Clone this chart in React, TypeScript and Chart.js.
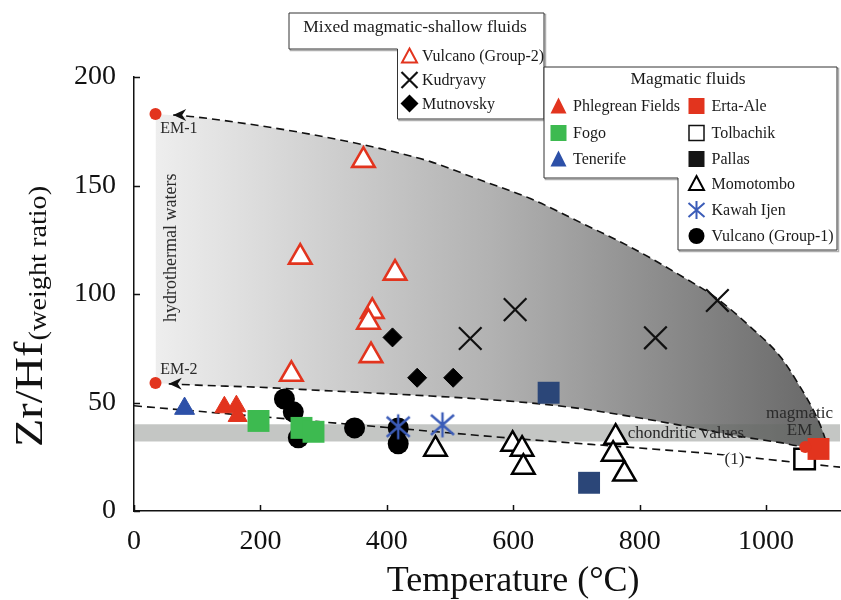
import React, { useEffect, useRef } from "react";
import { Chart, registerables } from "chart.js";

Chart.register(...registerables);

const FONT = "'Liberation Serif', 'Times New Roman', serif";

// ---- axes ----
const xTickValues = [0, 200, 400, 600, 800, 1000];
const yTickValues = [0, 50, 100, 150, 200];
const xRange = [0, 1117];
const yRange = [0, 200];

// ---- mixing field boundaries (Temperature °C, Zr/Hf) ----
const curveT = [34, 100, 200, 300, 390, 469, 548, 627, 706, 785, 859, 922, 975, 1023, 1054, 1075, 1089, 1096];
const upperZrHf = [183, 181.5, 177.5, 172.5, 167, 161, 152.5, 144, 133, 121.7, 109.5, 98, 84.9, 71, 57.2, 46.4, 37.2, 31];
const lowerZrHf = [59, 58, 57, 55.5, 54.2, 53, 51.6, 49.8, 47.2, 43.6, 39.8, 36.3, 33.6, 31.5, 30, 30.3, 30.7, 31];
const upperArrowTip = [62, 182.5];
const lowerArrowTip = [55, 58.6];

// ---- trend line (1) ----
const trendT = [0, 200, 400, 612, 800, 917, 1117];
const trendZrHf = [48.5, 43.5, 38.5, 33.2, 29, 26.3, 20.2];

// ---- chondritic values band ----
const chondriticRange = [32, 40];

// ---- end members ----
const endMembers = [[34, 183], [34, 59], [1062, 29.5]];

// ---- samples [T, Zr/Hf] ----
const vulcanoG2 = [[363, 161.6], [263, 117], [413, 109.6], [377, 92], [371, 87], [375, 71.6], [249, 63]];
const kudryavy = [[532, 79.5], [603, 92.8], [825, 79.8], [923, 97]];
const mutnovsky = [[409, 80], [448, 61.4], [505, 61.4]];
const phlegrean = [[143, 47.8], [162, 48.3], [164, 43.8]];
const fogo = [[197, 41.5], [265, 38.3], [284, 36.5]];
const tenerife = [[80, 47.2]];
const ertaAle = [[1083, 28.6]];
const tolbachik = [[1061, 24]];
const pallas = [[656, 54.5], [720, 13]];
const momotombo = [[477, 28.5], [599, 30.8], [614, 28.5], [616, 20.2], [762, 34], [758, 26.2], [776, 17]];
const kawahIjen = [[418, 38.8], [488, 39.7]];
const vulcanoG1 = [[238, 51.6], [252, 45.7], [260, 33.7], [349, 38.3], [418, 38.3], [418, 31]];

const RED = "#e2341e";
const GREEN = "#3dba50";
const BLUE = "#2d50a8";
const NAVY = "#2b4678";
const STAR_BLUE = "#3b5cb8";

const pts = (arr: number[][]) => arr.map(([x, y]) => ({ x, y }));

function makeAsterisk(vh: number, dx: number, dy: number, lw: number, color: string) {
  const c = document.createElement("canvas");
  const w = Math.ceil(dx * 2 + lw * 2);
  const h = Math.ceil(vh * 2 + lw * 2);
  c.width = w;
  c.height = h;
  const g = c.getContext("2d")!;
  g.strokeStyle = color;
  g.lineWidth = lw;
  g.lineCap = "butt";
  const cx = w / 2, cy = h / 2;
  g.beginPath();
  g.moveTo(cx, cy - vh); g.lineTo(cx, cy + vh);
  g.moveTo(cx - dx, cy - dy); g.lineTo(cx + dx, cy + dy);
  g.moveTo(cx - dx, cy + dy); g.lineTo(cx + dx, cy - dy);
  g.stroke();
  return c;
}

type Shape = "triOpen" | "tri" | "cross" | "diamond" | "square" | "squareOpen" | "circle" | "asterisk";

function drawMarker(ctx: CanvasRenderingContext2D, shape: Shape, color: string, cx: number, cy: number) {
  ctx.save();
  ctx.fillStyle = color;
  ctx.strokeStyle = color;
  ctx.beginPath();
  switch (shape) {
    case "tri":
      ctx.moveTo(cx, cy - 8.5); ctx.lineTo(cx + 8, cy + 7.5); ctx.lineTo(cx - 8, cy + 7.5); ctx.closePath();
      ctx.fill();
      break;
    case "triOpen":
      ctx.lineWidth = 2;
      ctx.lineJoin = "miter";
      ctx.moveTo(cx, cy - 7.5); ctx.lineTo(cx + 7.5, cy + 6.5); ctx.lineTo(cx - 7.5, cy + 6.5); ctx.closePath();
      ctx.fillStyle = "#fff";
      ctx.fill();
      ctx.stroke();
      break;
    case "cross":
      ctx.lineWidth = 2.2;
      ctx.moveTo(cx - 8, cy - 8); ctx.lineTo(cx + 8, cy + 8);
      ctx.moveTo(cx - 8, cy + 8); ctx.lineTo(cx + 8, cy - 8);
      ctx.stroke();
      break;
    case "diamond":
      ctx.moveTo(cx, cy - 9); ctx.lineTo(cx + 9, cy); ctx.lineTo(cx, cy + 9); ctx.lineTo(cx - 9, cy); ctx.closePath();
      ctx.fill();
      break;
    case "square":
      ctx.fillRect(cx - 8, cy - 8, 16, 16);
      break;
    case "squareOpen":
      ctx.lineWidth = 1.5;
      ctx.fillStyle = "#fff";
      ctx.fillRect(cx - 7.5, cy - 7.5, 15, 15);
      ctx.strokeRect(cx - 7.5, cy - 7.5, 15, 15);
      break;
    case "circle":
      ctx.arc(cx, cy, 8, 0, Math.PI * 2);
      ctx.fill();
      break;
    case "asterisk":
      ctx.lineWidth = 2;
      ctx.moveTo(cx, cy - 9); ctx.lineTo(cx, cy + 9);
      ctx.moveTo(cx - 8, cy - 7); ctx.lineTo(cx + 8, cy + 7);
      ctx.moveTo(cx - 8, cy + 7); ctx.lineTo(cx + 8, cy - 7);
      ctx.stroke();
      break;
  }
  ctx.restore();
}

const mixedLegend: { label: string; shape: Shape; color: string }[] = [
  { label: "Vulcano (Group-2)", shape: "triOpen", color: RED },
  { label: "Kudryavy", shape: "cross", color: "#111" },
  { label: "Mutnovsky", shape: "diamond", color: "#000" },
];
const magmaticLegendLeft: { label: string; shape: Shape; color: string }[] = [
  { label: "Phlegrean Fields", shape: "tri", color: RED },
  { label: "Fogo", shape: "square", color: GREEN },
  { label: "Tenerife", shape: "tri", color: BLUE },
];
const magmaticLegendRight: { label: string; shape: Shape; color: string }[] = [
  { label: "Erta-Ale", shape: "square", color: RED },
  { label: "Tolbachik", shape: "squareOpen", color: "#111" },
  { label: "Pallas", shape: "square", color: "#151515" },
  { label: "Momotombo", shape: "triOpen", color: "#000" },
  { label: "Kawah Ijen", shape: "asterisk", color: STAR_BLUE },
  { label: "Vulcano (Group-1)", shape: "circle", color: "#000" },
];

function polygon(ctx: CanvasRenderingContext2D, p: number[][]) {
  ctx.beginPath();
  p.forEach(([x, y], i) => (i ? ctx.lineTo(x, y) : ctx.moveTo(x, y)));
  ctx.closePath();
}

const overlayPlugin = {
  id: "overlay",
  afterDraw(chart: any) {
    const { ctx, chartArea } = chart;
    const xs = chart.scales.x;
    const ys = chart.scales.y;
    const X = (v: number) => xs.getPixelForValue(v);
    const Y = (v: number) => ys.getPixelForValue(v);
    ctx.save();

    // inward tick marks
    ctx.strokeStyle = "#111";
    ctx.lineWidth = 1.5;
    ctx.beginPath();
    xTickValues.forEach((v) => {
      const px = Math.round(X(v)) + 0.5;
      ctx.moveTo(px, chartArea.bottom);
      ctx.lineTo(px, chartArea.bottom - 6);
    });
    yTickValues.forEach((v) => {
      const py = Math.round(Y(v)) + 0.5;
      ctx.moveTo(chartArea.left, py);
      ctx.lineTo(chartArea.left + 6, py);
    });
    ctx.stroke();

    // arrowheads at the start of the two dashed curves
    ctx.fillStyle = "#111";
    [upperArrowTip, lowerArrowTip].forEach(([t, z]) => {
      const tx = X(t), ty = Y(z);
      ctx.beginPath();
      ctx.moveTo(tx, ty);
      ctx.lineTo(tx + 13, ty - 6);
      ctx.lineTo(tx + 9, ty);
      ctx.lineTo(tx + 13, ty + 6);
      ctx.closePath();
      ctx.fill();
    });

    // in-plot labels
    ctx.fillStyle = "#2a2a2a";
    ctx.textBaseline = "alphabetic";
    ctx.font = `16px ${FONT}`;
    ctx.textAlign = "left";
    ctx.fillText("EM-1", X(41.5), Y(174));
    ctx.fillText("EM-2", X(41.5), Y(63.2));

    ctx.font = `17px ${FONT}`;
    ctx.fillText("chondritic values", X(781), Y(33.5));
    ctx.textAlign = "center";
    ctx.fillText("magmatic", X(1053), Y(43));
    ctx.fillText("EM", X(1053), Y(35));

    // trend label (1)
    const lx = X(950), ly = Y(21.8);
    const tw = ctx.measureText("(1)").width;
    ctx.fillStyle = "#fff";
    ctx.fillRect(lx - tw / 2 - 1, ly - 9, tw + 2, 9);
    ctx.fillStyle = "#2a2a2a";
    ctx.fillText("(1)", lx, ly);

    // hydrothermal waters (vertical)
    ctx.save();
    ctx.font = `18px ${FONT}`;
    ctx.translate(X(67), Y(121.3));
    ctx.rotate(-Math.PI / 2);
    ctx.textAlign = "center";
    ctx.fillText("hydrothermal waters", 0, 0);
    ctx.restore();

    // axis titles
    ctx.fillStyle = "#111";
    ctx.font = `36px ${FONT}`;
    ctx.textAlign = "center";
    ctx.fillText("Temperature (\u00B0C)", X(600), 591);

    ctx.save();
    ctx.translate(42, 447);
    ctx.rotate(-Math.PI / 2);
    ctx.scale(1.13, 1);
    ctx.textAlign = "left";
    ctx.font = `41px ${FONT}`;
    ctx.fillText("Zr/Hf", 0, 0);
    const mw = ctx.measureText("Zr/Hf").width;
    ctx.font = `25px ${FONT}`;
    ctx.fillText("(weight ratio)", mw + 1, 4);
    ctx.restore();

    // legend boxes
    const mixedBox = [[289, 13], [544, 13], [544, 119], [397.5, 119], [397.5, 49], [289, 49]];
    const magBox = [[544, 67], [837, 67], [837, 250], [678, 250], [678, 178], [544, 178]];
    [mixedBox, magBox].forEach((b) => {
      ctx.save();
      ctx.translate(1.5, 1.5);
      polygon(ctx, b);
      ctx.strokeStyle = "rgba(120,120,120,0.6)";
      ctx.lineWidth = 1.5;
      ctx.stroke();
      ctx.restore();
      polygon(ctx, b);
      ctx.fillStyle = "#fff";
      ctx.fill();
      ctx.strokeStyle = "#333";
      ctx.lineWidth = 1;
      ctx.stroke();
    });

    ctx.fillStyle = "#1a1a1a";
    ctx.font = `17.5px ${FONT}`;
    ctx.textAlign = "center";
    ctx.textBaseline = "middle";
    ctx.fillText("Mixed magmatic-shallow fluids", 415, 27);
    ctx.fillText("Magmatic fluids", 688, 79);

    ctx.font = `16px ${FONT}`;
    ctx.textAlign = "left";
    const mixedRows = [56, 80, 103.5];
    mixedLegend.forEach((e, i) => {
      drawMarker(ctx, e.shape, e.color, 409.5, mixedRows[i]);
      ctx.fillStyle = "#1a1a1a";
      ctx.fillText(e.label, 422, mixedRows[i] + 1);
    });
    const magRows = [106, 133, 159, 183.5, 210, 236];
    magmaticLegendLeft.forEach((e, i) => {
      drawMarker(ctx, e.shape, e.color, 558.5, magRows[i]);
      ctx.fillStyle = "#1a1a1a";
      ctx.fillText(e.label, 573, magRows[i] + 1);
    });
    magmaticLegendRight.forEach((e, i) => {
      drawMarker(ctx, e.shape, e.color, 696.5, magRows[i]);
      ctx.fillStyle = "#1a1a1a";
      ctx.fillText(e.label, 711.5, magRows[i] + 1);
    });

    ctx.restore();
  },
};

export default function App() {
  const ref = useRef<HTMLCanvasElement | null>(null);

  useEffect(() => {
    if (!ref.current) return;
    const starStyle = makeAsterisk(12.5, 11.5, 10, 2.4, STAR_BLUE);

    const scatter = (data: number[][], style: any, order: number) => ({
      data: pts(data),
      showLine: false,
      order,
      ...style,
    });

    const curve = (data: { x: number; y: number }[], extra: any, order: number) => ({
      data,
      showLine: true,
      pointRadius: 0,
      cubicInterpolationMode: "monotone",
      order,
      ...extra,
    });

    const fieldUpper = curveT.map((t, i) => ({ x: t, y: upperZrHf[i] }));
    const fieldLower = curveT.map((t, i) => ({ x: t, y: lowerZrHf[i] }));
    const dashUpper = [{ x: upperArrowTip[0], y: upperArrowTip[1] }, ...fieldUpper.filter((p) => p.x > upperArrowTip[0])];
    const dashLower = [{ x: lowerArrowTip[0], y: lowerArrowTip[1] }, ...fieldLower.filter((p) => p.x > lowerArrowTip[0])];
    const trend = trendT.map((t, i) => ({ x: t, y: trendZrHf[i] }));
    const band = [{ x: xRange[0], y: chondriticRange[1] }, { x: xRange[1], y: chondriticRange[1] }];

    const gradientFill = (c: any) => {
      const chart = c.chart;
      const area = chart.chartArea;
      if (!area) return "#bbb";
      const x0 = chart.scales.x.getPixelForValue(curveT[0]);
      const x1 = chart.scales.x.getPixelForValue(curveT[curveT.length - 1]);
      const g = chart.ctx.createLinearGradient(x0, 0, x1, 0);
      g.addColorStop(0, "#eeeeee");
      g.addColorStop(0.5, "#b2b2b2");
      g.addColorStop(1, "#676767");
      return g;
    };

    const dashStyle = { borderColor: "#111", borderWidth: 1.6, borderDash: [8, 5], fill: false };

    const chart = new Chart(ref.current, {
      type: "scatter",
      data: {
        datasets: [
          curve(fieldUpper, { borderWidth: 0, borderColor: "rgba(0,0,0,0)", backgroundColor: gradientFill, fill: "+1" }, 30),
          curve(fieldLower, { borderWidth: 0, borderColor: "rgba(0,0,0,0)", fill: false }, 29),
          curve(band, { borderWidth: 0, borderColor: "rgba(0,0,0,0)", backgroundColor: "rgba(100,105,100,0.38)", fill: { value: chondriticRange[0] }, cubicInterpolationMode: "default" }, 28),
          curve(dashUpper, dashStyle, 25),
          curve(dashLower, dashStyle, 25),
          curve(trend, dashStyle, 25),
          scatter(vulcanoG2, { pointStyle: "triangle", pointRadius: 13, backgroundColor: "#fff", borderColor: RED, borderWidth: 2.6 }, 12),
          scatter(kudryavy, { pointStyle: "crossRot", pointRadius: 16, borderColor: "#111", borderWidth: 2.2 }, 12),
          scatter(mutnovsky, { pointStyle: "rectRot", pointRadius: 9.5, backgroundColor: "#000", borderColor: "#000", borderWidth: 1 }, 12),
          scatter(vulcanoG1, { pointStyle: "circle", pointRadius: 10.5, backgroundColor: "#000", borderColor: "#000", borderWidth: 0 }, 11),
          scatter(phlegrean, { pointStyle: "triangle", pointRadius: 11, backgroundColor: RED, borderColor: RED, borderWidth: 1 }, 10),
          scatter(tenerife, { pointStyle: "triangle", pointRadius: 11.5, backgroundColor: BLUE, borderColor: BLUE, borderWidth: 1 }, 10),
          scatter(fogo, { pointStyle: "rect", pointRadius: 15.5, backgroundColor: GREEN, borderColor: GREEN, borderWidth: 0 }, 9),
          scatter(pallas, { pointStyle: "rect", pointRadius: 15.5, backgroundColor: NAVY, borderColor: NAVY, borderWidth: 0 }, 9),
          scatter(momotombo, { pointStyle: "triangle", pointRadius: 13, backgroundColor: "#fff", borderColor: "#000", borderWidth: 2.5 }, 9),
          scatter(kawahIjen, { pointStyle: starStyle, pointRadius: 12 }, 8),
          scatter(tolbachik, { pointStyle: "rect", pointRadius: 14.5, backgroundColor: "#fff", borderColor: "#000", borderWidth: 2.5 }, 8),
          scatter(ertaAle, { pointStyle: "rect", pointRadius: 15.5, backgroundColor: RED, borderColor: RED, borderWidth: 0 }, 7),
          scatter(endMembers, { pointStyle: "circle", pointRadius: 6, backgroundColor: RED, borderColor: RED, borderWidth: 0 }, 5),
        ] as any,
      },
      options: {
        animation: false,
        responsive: false,
        events: [],
        layout: { autoPadding: false, padding: { left: 0, right: 1, top: 77, bottom: 0 } },
        plugins: { legend: { display: false }, tooltip: { enabled: false } },
        scales: {
          x: {
            type: "linear",
            min: xRange[0],
            max: xRange[1],
            afterBuildTicks: (s: any) => {
              s.ticks = xTickValues.map((v) => ({ value: v }));
            },
            afterFit: (s: any) => {
              s.height = 89;
            },
            grid: { display: false },
            border: { display: true, color: "#111", width: 1.5 },
            ticks: {
              font: { family: FONT, size: 28 },
              color: "#111",
              padding: 6,
              autoSkip: false,
              maxRotation: 0,
              callback: (v: any) => String(v),
            },
          },
          y: {
            type: "linear",
            min: yRange[0],
            max: yRange[1],
            afterBuildTicks: (s: any) => {
              s.ticks = yTickValues.map((v) => ({ value: v }));
            },
            afterFit: (s: any) => {
              s.width = 134;
            },
            grid: { display: false },
            border: { display: true, color: "#111", width: 1.5 },
            ticks: {
              font: { family: FONT, size: 28 },
              color: "#111",
              padding: 10,
              autoSkip: false,
              callback: (v: any) => String(v),
            },
          },
        },
      } as any,
      plugins: [overlayPlugin],
    });

    return () => chart.destroy();
  }, []);

  return (
    <div style={{ position: "absolute", left: 0, top: 0, width: 841, height: 600, background: "#fff" }}>
      <canvas ref={ref} width={841} height={600} style={{ width: 841, height: 600, display: "block" }} />
    </div>
  );
}
